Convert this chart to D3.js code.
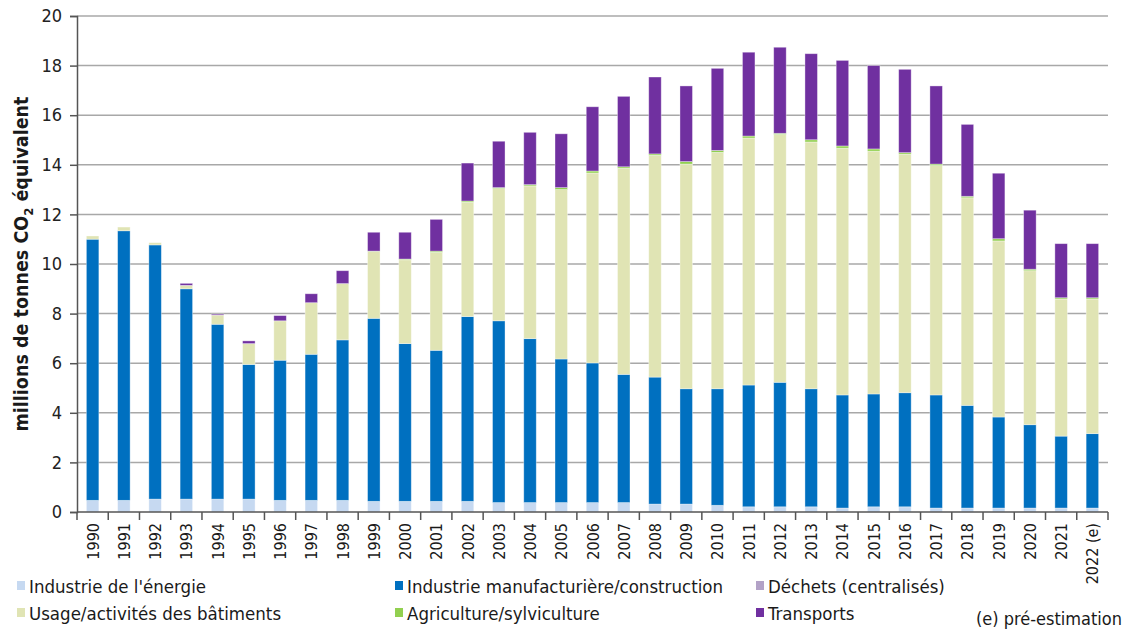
<!DOCTYPE html>
<html>
<head>
<meta charset="utf-8">
<script src="https://cdn.jsdelivr.net/npm/d3@7"></script>
<style>
  body { margin: 0; background: #fff; }
  text { font-family: "DejaVu Sans", "Liberation Sans", sans-serif; font-stretch: condensed; fill: #1a1a1a; }
</style>
</head>
<body>
<div id="chart"></div>
<script>
const years = ["1990","1991","1992","1993","1994","1995","1996","1997","1998","1999","2000","2001","2002","2003","2004","2005","2006","2007","2008","2009","2010","2011","2012","2013","2014","2015","2016","2017","2018","2019","2020","2021","2022 (e)"];
// values in millions of tonnes CO2 eq, stacked bottom to top
const energie    = [0.47,0.47,0.52,0.52,0.52,0.52,0.47,0.47,0.47,0.43,0.43,0.43,0.43,0.38,0.38,0.38,0.38,0.38,0.32,0.32,0.27,0.21,0.21,0.21,0.16,0.21,0.21,0.16,0.16,0.16,0.16,0.16,0.16];
const manuf      = [10.53,10.87,10.25,8.48,7.05,5.43,5.65,5.89,6.47,7.38,6.36,6.09,7.45,7.33,6.61,5.79,5.63,5.17,5.12,4.65,4.70,4.91,5.02,4.76,4.56,4.55,4.60,4.56,4.14,3.67,3.36,2.90,3.00];
const dechets    = [0,0,0,0,0,0,0,0,0,0,0,0,0,0,0,0,0,0,0,0,0,0,0,0,0,0,0,0,0,0,0,0,0];
const batiments  = [0.13,0.15,0.09,0.14,0.37,0.84,1.59,2.08,2.27,2.69,3.38,3.95,4.61,5.33,6.16,6.83,7.66,8.31,8.94,9.06,9.53,9.96,9.99,9.95,9.95,9.79,9.62,9.25,8.37,7.10,6.21,5.53,5.43];
const agri       = [0,0,0,0,0,0,0,0,0,0.02,0.03,0.05,0.05,0.04,0.05,0.08,0.08,0.06,0.06,0.10,0.08,0.08,0.05,0.09,0.09,0.09,0.06,0.06,0.06,0.09,0.06,0.05,0.05];
const transports = [0,0,0,0.08,0.04,0.11,0.21,0.36,0.52,0.76,1.08,1.28,1.53,1.87,2.11,2.17,2.59,2.84,3.10,3.05,3.31,3.38,3.47,3.47,3.45,3.36,3.36,3.15,2.90,2.64,2.38,2.18,2.18];
const yTicks = [0,2,4,6,8,10,12,14,16,18,20];

const series = [
  { key: "energie",    label: "Industrie de l'énergie", color: "#c6d9f1", values: energie },
  { key: "manuf",      label: "Industrie manufacturière/construction", color: "#0070c0", values: manuf },
  { key: "dechets",    label: "Déchets (centralisés)", color: "#b3a2c7", values: dechets },
  { key: "batiments",  label: "Usage/activités des bâtiments", color: "#e0e4b4", values: batiments },
  { key: "agri",       label: "Agriculture/sylviculture", color: "#92d050", values: agri },
  { key: "transports", label: "Transports", color: "#7030a0", values: transports }
];

const width = 1130, height = 633;
const margin = { left: 77, right: 22, top: 16, bottom: 121 };

const table = years.map((y, i) => {
  const row = { year: y };
  series.forEach(s => row[s.key] = s.values[i]);
  return row;
});
const stacked = d3.stack().keys(series.map(s => s.key))(table);

const svg = d3.select("#chart").append("svg")
  .attr("width", width)
  .attr("height", height);

const x = d3.scaleBand().domain(years)
  .range([margin.left, width - margin.right])
  .paddingInner(0.6).paddingOuter(0.3);
const y = d3.scaleLinear().domain([0, 20]).range([height - margin.bottom, margin.top]);

// grid
svg.append("g")
  .selectAll("line")
  .data(yTicks.filter(d => d > 0))
  .enter().append("line")
  .attr("x1", margin.left).attr("x2", width - margin.right)
  .attr("y1", d => y(d)).attr("y2", d => y(d))
  .attr("stroke", "#a8a8a8").attr("stroke-width", 1.5);

// bars
svg.append("g")
  .selectAll("g")
  .data(stacked)
  .enter().append("g")
  .attr("fill", (d, i) => series[i].color)
  .selectAll("rect")
  .data(d => d)
  .enter().append("rect")
  .attr("x", d => x(d.data.year))
  .attr("width", x.bandwidth())
  .attr("y", d => y(d[1]))
  .attr("height", d => Math.max(0, y(d[0]) - y(d[1])))
  .attr("stroke", "rgba(255,255,255,0.45)")
  .attr("stroke-width", 0.8);

// y axis
const yAxis = svg.append("g")
  .attr("transform", `translate(${margin.left},0)`)
  .call(d3.axisLeft(y).tickValues(yTicks).tickSize(7).tickPadding(8).tickFormat(d3.format("d")));
yAxis.select(".domain").attr("stroke", "#555").attr("stroke-width", 1.5);
yAxis.selectAll(".tick line").attr("stroke", "#555").attr("stroke-width", 1.5);
yAxis.selectAll("text").attr("font-size", 18).style("fill", "#222");

// x axis
const step = x.step();
const xAxisG = svg.append("g").attr("transform", `translate(0,${y(0)})`);
xAxisG.append("line")
  .attr("x1", margin.left).attr("x2", width - margin.right)
  .attr("stroke", "#555").attr("stroke-width", 1.5);
xAxisG.selectAll(".xtick")
  .data(d3.range(years.length + 1))
  .enter().append("line")
  .attr("x1", i => margin.left + i * step).attr("x2", i => margin.left + i * step)
  .attr("y1", 0).attr("y2", 8)
  .attr("stroke", "#555").attr("stroke-width", 1.5);
xAxisG.selectAll(".xlab")
  .data(years)
  .enter().append("text")
  .attr("transform", d => `translate(${x(d) + x.bandwidth() / 2 + 6},11) rotate(-90)`)
  .attr("text-anchor", "end")
  .attr("font-size", 16)
  .text(d => d);

// y title
const yt = svg.append("text")
  .attr("transform", `translate(28,${(y(0) + y(20)) / 2}) rotate(-90)`)
  .attr("text-anchor", "middle")
  .attr("font-size", 19.5)
  .attr("font-weight", "bold");
yt.append("tspan").text("millions de tonnes CO");
yt.append("tspan").attr("font-size", 13).attr("dy", 5).text("2");
yt.append("tspan").attr("dy", -5).text(" équivalent");

// legend
const legendPos = [[17, 587], [395, 587], [756, 587], [17, 614], [395, 614], [756, 614]];
const legend = svg.append("g")
  .selectAll("g")
  .data(series)
  .enter().append("g")
  .attr("transform", (d, i) => `translate(${legendPos[i][0]},${legendPos[i][1]})`);
legend.append("rect")
  .attr("x", 0).attr("y", -6).attr("width", 8).attr("height", 9)
  .attr("fill", d => d.color);
legend.append("text")
  .attr("x", 12).attr("y", 0).attr("dy", "0.35em")
  .attr("font-size", 18.5)
  .text(d => d.label);

svg.append("text")
  .attr("x", 1122).attr("y", 619).attr("dy", "0.35em")
  .attr("text-anchor", "end")
  .attr("font-size", 18)
  .text("(e) pré-estimation");
</script>
</body>
</html>
